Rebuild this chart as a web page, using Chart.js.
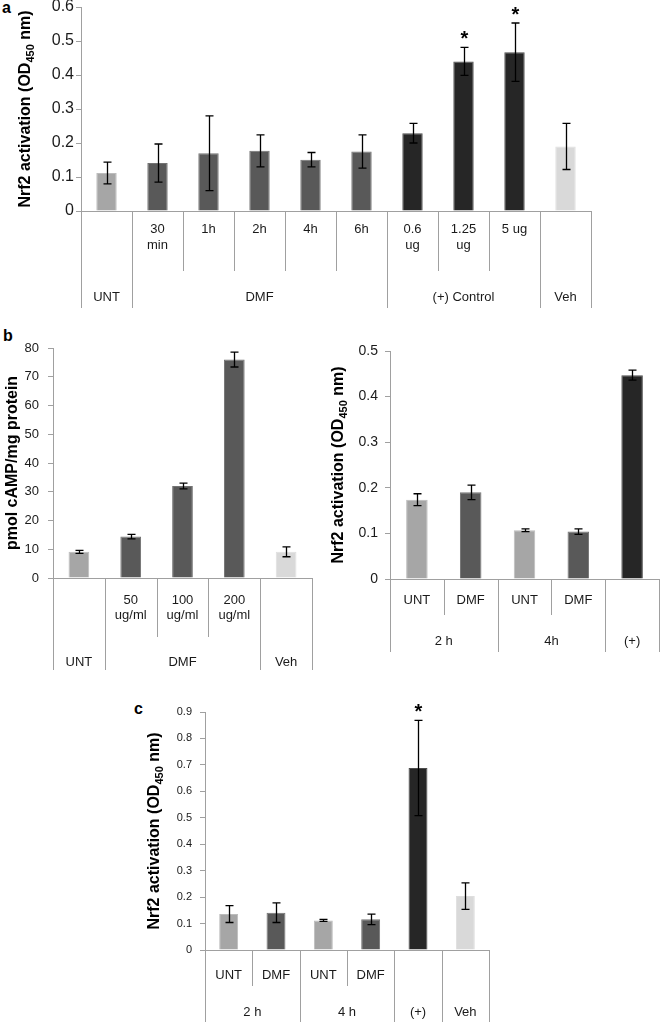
<!DOCTYPE html>
<html>
<head>
<meta charset="utf-8">
<script src="https://cdn.jsdelivr.net/npm/chart.js@4.4.0/dist/chart.umd.min.js"></script>
<style>
  body { margin: 0; background: #fff; width: 661px; height: 1024px; position: relative; overflow: hidden;
         font-family: 'Liberation Sans', Arial, sans-serif; }
  canvas { position: absolute; }
  .tag { position: absolute; font-weight: bold; font-size: 16px; line-height: 16px; color: #000; }
</style>
</head>
<body>
<div class="tag" style="left:2px;top:0px">a</div>
<div class="tag" style="left:3px;top:328px">b</div>
<div class="tag" style="left:134px;top:701px">c</div>

<canvas id="chartA" style="left:0;top:-20px" width="661" height="340"></canvas>
<canvas id="chartB1" style="left:0;top:320px" width="330" height="360"></canvas>
<canvas id="chartB2" style="left:330px;top:320px" width="331" height="360"></canvas>
<canvas id="chartC" style="left:100px;top:680px" width="420" height="344"></canvas>

<script>
// ---- panel a ----
const aTicks = ['', ['30', 'min'], '1h', '2h', '4h', '6h', ['0.6', 'ug'], ['1.25', 'ug'], '5 ug', ''];
const aKinds = ['UNT', 'DMF', 'DMF', 'DMF', 'DMF', 'DMF', 'POS', 'POS', 'POS', 'VEH'];
const aGroups = ['UNT', 'DMF', '(+) Control', 'Veh'];
const aGroupSpans = [1, 5, 3, 1];
const aValues = [0.112, 0.141, 0.17, 0.177, 0.151, 0.175, 0.229, 0.44, 0.467, 0.19];
const aErrors = [0.032, 0.056, 0.11, 0.047, 0.021, 0.049, 0.029, 0.041, 0.086, 0.068];
const aStars = [0, 0, 0, 0, 0, 0, 0, 1, 1, 0];

// ---- panel b, left (cAMP) ----
const b1Ticks = ['', ['50', 'ug/ml'], ['100', 'ug/ml'], ['200', 'ug/ml'], ''];
const b1Kinds = ['UNT', 'DMF', 'DMF', 'DMF', 'VEH'];
const b1Groups = ['UNT', 'DMF', 'Veh'];
const b1GroupSpans = [1, 3, 1];
const b1Values = [9.1, 14.4, 32, 76, 9.1];
const b1Errors = [0.5, 0.8, 1.0, 2.6, 1.7];

// ---- panel b, right ----
const b2Ticks = ['UNT', 'DMF', 'UNT', 'DMF', ''];
const b2Kinds = ['UNT', 'DMF', 'UNT', 'DMF', 'POS'];
const b2Groups = ['2 h', '4h', '(+)'];
const b2GroupSpans = [2, 2, 1];
const b2Values = [0.174, 0.19, 0.107, 0.104, 0.447];
const b2Errors = [0.013, 0.016, 0.003, 0.006, 0.011];

// ---- panel c ----
const cTicks = ['UNT', 'DMF', 'UNT', 'DMF', '', ''];
const cKinds = ['UNT', 'DMF', 'UNT', 'DMF', 'POS', 'VEH'];
const cGroups = ['2 h', '4 h', '(+)', 'Veh'];
const cGroupSpans = [2, 2, 1, 1];
const cValues = [0.136, 0.141, 0.112, 0.116, 0.688, 0.204];
const cErrors = [0.032, 0.037, 0.004, 0.02, 0.18, 0.05];
const cStars = [0, 0, 0, 0, 1, 0];

const nrfTitle = [['Nrf2 activation (OD', false], ['450', true], [' nm)', false]];
const campTitle = [['pmol cAMP/mg protein', false]];

const FONT = "'Liberation Sans', Arial, sans-serif";
const AXIS = '#a0a0a0';
const TEXT = '#1a1a1a';
const kindColor = { UNT: '#a6a6a6', DMF: '#595959', POS: '#262626', VEH: '#d9d9d9' };
const kindEdge = { UNT: '#bcbcbc', DMF: '#737373', POS: '#4d4d4d', VEH: '#dedede' };

Chart.defaults.font.family = FONT;

// vertical group dividers + two rows of category labels under the bars
function groupAxis(p) {
    return {
        id: 'groupAxis',
        afterDraw(chart) {
            const { ctx, chartArea: ca, scales: { x } } = chart;
            const labels = chart.data.labels;
            const n = labels.length;
            const base = ca.bottom;
            const full = new Set([0]);
            let acc = 0;
            p.spans.forEach(s => { acc += s; full.add(acc); });

            ctx.save();
            ctx.strokeStyle = AXIS;
            ctx.lineWidth = 1;
            ctx.beginPath();
            ctx.moveTo(ca.left, Math.round(base) + 0.5);
            ctx.lineTo(ca.right, Math.round(base) + 0.5);
            for (let i = 0; i <= n; i++) {
                const xp = Math.round(x.getPixelForValue(i - 0.5)) + 0.5;
                ctx.moveTo(xp, base);
                ctx.lineTo(xp, base + (full.has(i) ? p.outer : p.inner));
            }
            ctx.stroke();

            ctx.fillStyle = TEXT;
            ctx.font = p.labelFont;
            ctx.textAlign = 'center';
            ctx.textBaseline = 'middle';
            labels.forEach((lab, i) => {
                [].concat(lab).forEach((s, k) => {
                    ctx.fillText(s, x.getPixelForValue(i), base + p.labelY + k * p.lineH);
                });
            });
            let start = 0;
            p.groups.forEach((g, j) => {
                const end = start + p.spans[j];
                const cx = (x.getPixelForValue(start - 0.5) + x.getPixelForValue(end - 0.5)) / 2;
                ctx.fillText(g, cx, base + p.groupY);
                start = end;
            });
            ctx.restore();
        }
    };
}

function errorBars(p) {
    return {
        id: 'errorBars',
        afterDatasetsDraw(chart) {
            const { ctx, scales: { y } } = chart;
            const meta = chart.getDatasetMeta(0);
            ctx.save();
            ctx.strokeStyle = '#000';
            ctx.lineWidth = 1.3;
            meta.data.forEach((bar, i) => {
                const v = p.values[i], e = p.errors[i];
                const top = y.getPixelForValue(v + e);
                const bot = y.getPixelForValue(v - e);
                const cx = Math.round(bar.x) + 0.5;
                ctx.beginPath();
                ctx.moveTo(cx, top); ctx.lineTo(cx, bot);
                ctx.moveTo(cx - 4, top); ctx.lineTo(cx + 4, top);
                ctx.moveTo(cx - 4, bot); ctx.lineTo(cx + 4, bot);
                ctx.stroke();
                if (p.stars && p.stars[i]) {
                    ctx.fillStyle = '#000';
                    ctx.font = 'bold 20px ' + FONT;
                    ctx.textAlign = 'center';
                    ctx.textBaseline = 'alphabetic';
                    ctx.fillText('*', cx, top - 2);
                }
            });
            ctx.restore();
        }
    };
}

// rotated y title with a subscript part
function yTitle(p) {
    return {
        id: 'yTitle',
        afterDraw(chart) {
            const { ctx, chartArea: ca } = chart;
            const big = 'bold 16px ' + FONT, small = 'bold 11px ' + FONT;
            ctx.save();
            ctx.translate(ca.left + p.titleDx, (ca.top + ca.bottom) / 2);
            ctx.rotate(-Math.PI / 2);
            let total = 0;
            p.title.forEach(([t, sub]) => { ctx.font = sub ? small : big; total += ctx.measureText(t).width; });
            let xx = -total / 2;
            ctx.fillStyle = '#000';
            ctx.textBaseline = 'middle';
            ctx.textAlign = 'left';
            p.title.forEach(([t, sub]) => {
                ctx.font = sub ? small : big;
                ctx.fillText(t, xx, sub ? 5 : 0);
                xx += ctx.measureText(t).width;
            });
            ctx.restore();
        }
    };
}

function makePanel(id, p) {
    return new Chart(document.getElementById(id), {
        type: 'bar',
        data: {
            labels: p.ticks,
            datasets: [{
                data: p.values,
                backgroundColor: p.kinds.map(k => kindColor[k]),
                borderColor: p.kinds.map(k => kindEdge[k]),
                borderWidth: 1,
                barPercentage: 0.4,
                categoryPercentage: 1
            }]
        },
        options: {
            responsive: false,
            animation: false,
            layout: { padding: p.padding },
            plugins: { legend: { display: false }, tooltip: { enabled: false } },
            scales: {
                x: { display: false },
                y: {
                    min: 0,
                    max: p.max,
                    ticks: { stepSize: p.step, color: TEXT, padding: p.tickPad, font: { size: p.tickSize } },
                    grid: { drawOnChartArea: false, drawTicks: true, tickLength: 5, color: AXIS },
                    border: { color: AXIS },
                    afterFit(scale) { scale.width = p.yWidth; }
                }
            }
        },
        plugins: [groupAxis(p), errorBars(p), yTitle(p)]
    });
}

makePanel('chartA', {
    ticks: aTicks, kinds: aKinds, groups: aGroups, spans: aGroupSpans,
    values: aValues, errors: aErrors, stars: aStars, title: nrfTitle,
    max: 0.6, step: 0.1, tickSize: 16, tickPad: 2, yWidth: 81, titleDx: -55,
    padding: { left: 0, top: 27, right: 70, bottom: 109 },
    labelFont: '13px ' + FONT, labelY: 18.5, lineH: 15.5, inner: 60, groupY: 86, outer: 97
});

makePanel('chartB1', {
    ticks: b1Ticks, kinds: b1Kinds, groups: b1Groups, spans: b1GroupSpans,
    values: b1Values, errors: b1Errors, title: campTitle,
    max: 80, step: 10, tickSize: 13, tickPad: 9, yWidth: 53, titleDx: -40,
    padding: { left: 0, top: 28, right: 18, bottom: 102 },
    labelFont: '13px ' + FONT, labelY: 22, lineH: 15, inner: 59, groupY: 84, outer: 92
});

makePanel('chartB2', {
    ticks: b2Ticks, kinds: b2Kinds, groups: b2Groups, spans: b2GroupSpans,
    values: b2Values, errors: b2Errors, title: nrfTitle,
    max: 0.5, step: 0.1, tickSize: 14, tickPad: 7, yWidth: 60, titleDx: -51,
    padding: { left: 0, top: 31, right: 2, bottom: 101 },
    labelFont: '13px ' + FONT, labelY: 21, lineH: 15, inner: 36, groupY: 62, outer: 73
});

makePanel('chartC', {
    ticks: cTicks, kinds: cKinds, groups: cGroups, spans: cGroupSpans,
    values: cValues, errors: cErrors, stars: cStars, title: nrfTitle,
    max: 0.9, step: 0.1, tickSize: 11, tickPad: 8, yWidth: 105, titleDx: -50.5,
    padding: { left: 0, top: 32, right: 31, bottom: 74 },
    labelFont: '13px ' + FONT, labelY: 25, lineH: 15, inner: 36, groupY: 62, outer: 72
});
</script>
</body>
</html>
